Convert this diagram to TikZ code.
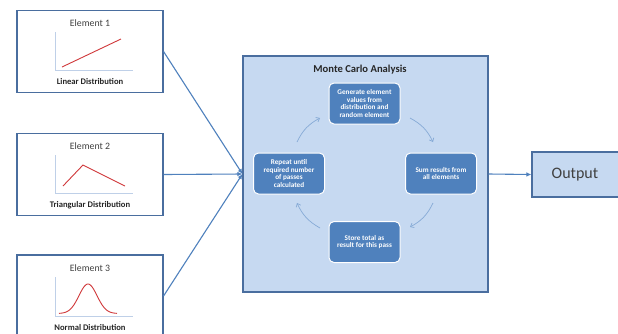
\documentclass[tikz,border=0pt]{standalone}
\usepackage{fontspec}
\setmainfont{Carlito}
\usetikzlibrary{arrows.meta}
\definecolor{bordblue}{HTML}{4A6E9F}
\definecolor{linkblue}{HTML}{4F81BD}
\definecolor{paleblue}{HTML}{C6D9F1}
\definecolor{innerblue}{HTML}{4F81BD}
\definecolor{axisblue}{HTML}{BFD0E8}
\definecolor{chartred}{HTML}{D0383A}
\definecolor{cycblue}{HTML}{86AAD6}
\definecolor{txtgray}{HTML}{404040}
\tikzset{
  elembox/.style={draw=bordblue, line width=1.1pt, fill=white, minimum width=146pt, minimum height=82pt, inner sep=0pt},
  mcbox/.style={draw=bordblue, line width=1.1pt, fill=paleblue, minimum width=245pt, minimum height=236pt, inner sep=0pt},
  outbox/.style={draw=bordblue, line width=1.1pt, fill=paleblue, minimum width=88pt, minimum height=45pt, inner sep=0pt},
  stepbox/.style={draw=white, line width=1pt, fill=innerblue, rounded corners=5pt, minimum width=71pt, minimum height=41pt, inner sep=1pt, align=center, text=white, font=\fontsize{7.2}{7.8}\selectfont\bfseries},
  link/.style={draw=linkblue, line width=1.1pt, -{Latex[length=5pt,width=4.5pt]}},
  cyc/.style={draw=cycblue, line width=0.7pt, -{Straight Barb[length=3pt,width=5pt]}},
  axisline/.style={draw=axisblue, line width=0.9pt},
  redline/.style={draw=chartred, line width=0.9pt},
  eltitle/.style={text=txtgray, font=\fontsize{9.8}{11}\selectfont},
  elcap/.style={text=black!85, font=\fontsize{8.6}{9}\selectfont\bfseries},
}
\begin{document}
\begin{tikzpicture}[x=1pt,y=-1pt]
\clip (0,0) rectangle (618,333);
\fill[white] (0,0) rectangle (618,333);
% element boxes
\node[elembox] (e1) at (90,51.5) {};
\node[elembox] (e2) at (90,174.5) {};
\node[elembox] (e3) at (90,296) {};
\node[eltitle] (t1) at (90,23) {Element 1};
\node[eltitle] (t2) at (90,146) {Element 2};
\node[eltitle] (t3) at (90,268) {Element 3};
\node[elcap] (c1) at (90,82) {Linear Distribution};
\node[elcap] (c2) at (90,205) {Triangular Distribution};
\node[elcap] (c3) at (90,327) {Normal Distribution};
% charts
\draw[axisline] (55,32) -- (55,70) -- (133,70);
\draw[redline] (62,67) -- (121,39);
\draw[axisline] (55,155) -- (55,193) -- (133,193);
\draw[redline] (63,186) -- (83,165) -- (125,186);
\draw[axisline] (55,277) -- (55,316) -- (133,316);
\draw[redline] plot[domain=59:117,samples=80,smooth] (\x,{313.5-29.5*exp(-((\x-88)*(\x-88))/(2*81))});
% Monte Carlo box
\node[mcbox] (mc) at (365.5,174) {};
\node[font=\fontsize{10.6}{12}\selectfont\bfseries, text=black!85] (mct) at (360,70) {Monte Carlo Analysis};
\node[stepbox] (gen) at (364.5,103.5) {Generate element\\values from\\distribution and\\random element};
\node[stepbox] (rep) at (289,173.5) {Repeat until\\required number\\of passes\\calculated};
\node[stepbox] (sum) at (441,173.5) {Sum results from\\all elements};
\node[stepbox] (sto) at (364.5,242) {Store total as\\result for this pass};
% cycle arrows
\coordinate (a1s) at (297,142); \coordinate (a1e) at (320,118);
\coordinate (a2s) at (410,118); \coordinate (a2e) at (433,142);
\coordinate (a3s) at (433,203); \coordinate (a3e) at (410,227);
\coordinate (a4s) at (320,228); \coordinate (a4e) at (297,203);
\draw[cyc] (a1s) to[bend left=18] (a1e);
\draw[cyc] (a2s) to[bend left=18] (a2e);
\draw[cyc] (a3s) to[bend left=18] (a3e);
\draw[cyc] (a4s) to[bend left=18] (a4e);
% output
\node[outbox] (out) at (576,174.5) {};
\node[text=txtgray, font=\fontsize{16}{18}\selectfont] (outt) at (575,174.5) {Output};
% connectors
\draw[link] (e1.east) -- (mc.west);
\draw[link] (e2.east) -- (mc.west);
\draw[link] (e3.east) -- (mc.west);
\draw[link] (mc.east) -- (out.west);
\end{tikzpicture}
\end{document}
